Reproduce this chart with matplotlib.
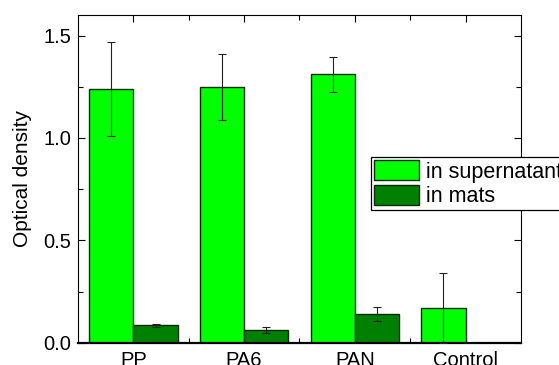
import numpy as np
import matplotlib
matplotlib.use("Agg")
import matplotlib.pyplot as plt
from matplotlib.ticker import MultipleLocator, FixedLocator

# --- 数据 ---
categories = ["PP", "PA6", "PAN", "Control"]
supernatant = [1.24, 1.25, 1.31, 0.17]
supernatant_err = [0.23, 0.16, 0.087, 0.17]
mats = [0.086, 0.065, 0.14, np.nan]
mats_err = [0.009, 0.015, 0.035, np.nan]

plt.rcParams['font.family'] = ['Liberation Sans', 'DejaVu Sans']

fig = plt.figure(figsize=(5.59, 3.65), dpi=100)
ax = fig.add_axes([0.1395, 0.0603, 0.7925, 0.8986])

x = np.arange(1, len(categories) + 1)
w = 0.4
light = '#00ff00'
dark = '#008000'
edge = '#0d2a0d'

ax.bar(x - w / 2, supernatant, w, color=light, edgecolor=edge, linewidth=1.0,
       label='in supernatant', zorder=2)
ax.bar(x + w / 2, np.nan_to_num(mats), w, color=dark, edgecolor=edge, linewidth=1.0,
       label='in mats', zorder=2)

ax.errorbar(x - w / 2, supernatant, yerr=supernatant_err, fmt='none',
            ecolor='#222222', elinewidth=0.8, capsize=2.6, capthick=0.8, zorder=3)
ax.errorbar(x + w / 2, mats, yerr=mats_err, fmt='none',
            ecolor='#222222', elinewidth=0.8, capsize=2.6, capthick=0.8, zorder=3)

ax.set_xlim(0.5, 4.5)
ax.set_ylim(0, 1.6)
ax.set_xticks(x)
ax.set_xticklabels(categories)
ax.xaxis.set_minor_locator(FixedLocator([1.5, 2.5, 3.5]))
ax.yaxis.set_major_locator(MultipleLocator(0.5))
ax.yaxis.set_minor_locator(MultipleLocator(0.25))
ax.yaxis.set_major_formatter(matplotlib.ticker.FormatStrFormatter('%.1f'))

ax.tick_params(which='both', direction='in', top=True, right=True,
               labelsize=14.5, width=0.8)
ax.tick_params(which='major', length=5)
ax.tick_params(which='minor', length=3.5)
ax.tick_params(axis='y', pad=5)
ax.tick_params(axis='x', pad=5.5)

for s in ['left', 'top', 'right']:
    ax.spines[s].set_linewidth(0.8)
ax.spines['bottom'].set_linewidth(1.6)

ax.set_ylabel('Optical density', fontsize=15)
ax.yaxis.set_label_coords(-0.104, 0.5)

leg = ax.legend(loc='upper left', bbox_to_anchor=(0.6637, 0.5699),
                bbox_transform=fig.transFigure, fontsize=15.5,
                frameon=True, fancybox=False, framealpha=1, edgecolor='black',
                borderpad=0.15, labelspacing=0.1, handlelength=2.1,
                handleheight=1.05, handletextpad=0.3, borderaxespad=0)
leg.get_frame().set_linewidth(0.9)

fig.savefig('out.png', dpi=100)
